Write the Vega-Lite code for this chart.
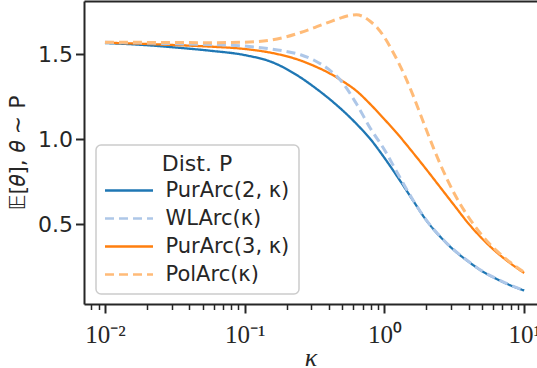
{
 "$schema": "https://vega.github.io/schema/vega-lite/v6.json",
 "width": 453,
 "height": 303,
 "autosize": {"type": "none"},
 "padding": {"left": 84, "top": 1, "right": 0, "bottom": 64},
 "background": "white",
 "config": {
  "view": {"stroke": null},
  "font": "DejaVu Sans",
  "axis": {"grid": false, "domainColor": "#262626", "domainWidth": 2, "tickColor": "#262626", "tickWidth": 2, "labelColor": "#262626", "titleColor": "#262626", "titleFontWeight": "normal"},
  "legend": {"strokeWidth": 1.5}
 },
 "data": {"values": [
  {"s": "PurArc(2, κ)", "k": 0.01, "v": 1.566},
  {"s": "PurArc(2, κ)", "k": 0.01778, "v": 1.556},
  {"s": "PurArc(2, κ)", "k": 0.03162, "v": 1.540},
  {"s": "PurArc(2, κ)", "k": 0.05623, "v": 1.521},
  {"s": "PurArc(2, κ)", "k": 0.1, "v": 1.495},
  {"s": "PurArc(2, κ)", "k": 0.1585, "v": 1.452},
  {"s": "PurArc(2, κ)", "k": 0.2512, "v": 1.363},
  {"s": "PurArc(2, κ)", "k": 0.3162, "v": 1.305},
  {"s": "PurArc(2, κ)", "k": 0.3981, "v": 1.241},
  {"s": "PurArc(2, κ)", "k": 0.5012, "v": 1.17},
  {"s": "PurArc(2, κ)", "k": 0.631, "v": 1.09},
  {"s": "PurArc(2, κ)", "k": 0.7943, "v": 1.0},
  {"s": "PurArc(2, κ)", "k": 1, "v": 0.89},
  {"s": "PurArc(2, κ)", "k": 1.259, "v": 0.77},
  {"s": "PurArc(2, κ)", "k": 1.585, "v": 0.645},
  {"s": "PurArc(2, κ)", "k": 1.995, "v": 0.522},
  {"s": "PurArc(2, κ)", "k": 2.512, "v": 0.425},
  {"s": "PurArc(2, κ)", "k": 3.162, "v": 0.345},
  {"s": "PurArc(2, κ)", "k": 3.981, "v": 0.28},
  {"s": "PurArc(2, κ)", "k": 5.012, "v": 0.222},
  {"s": "PurArc(2, κ)", "k": 6.31, "v": 0.178},
  {"s": "PurArc(2, κ)", "k": 7.943, "v": 0.14},
  {"s": "PurArc(2, κ)", "k": 10, "v": 0.109},
  {"s": "WLArc(κ)", "k": 0.01, "v": 1.570},
  {"s": "WLArc(κ)", "k": 0.01778, "v": 1.567},
  {"s": "WLArc(κ)", "k": 0.03162, "v": 1.562},
  {"s": "WLArc(κ)", "k": 0.05623, "v": 1.557},
  {"s": "WLArc(κ)", "k": 0.1, "v": 1.548},
  {"s": "WLArc(κ)", "k": 0.1585, "v": 1.530},
  {"s": "WLArc(κ)", "k": 0.1995, "v": 1.516},
  {"s": "WLArc(κ)", "k": 0.2512, "v": 1.497},
  {"s": "WLArc(κ)", "k": 0.3162, "v": 1.463},
  {"s": "WLArc(κ)", "k": 0.3981, "v": 1.412},
  {"s": "WLArc(κ)", "k": 0.5012, "v": 1.333},
  {"s": "WLArc(κ)", "k": 0.631, "v": 1.208},
  {"s": "WLArc(κ)", "k": 0.7943, "v": 1.063},
  {"s": "WLArc(κ)", "k": 1, "v": 0.938},
  {"s": "WLArc(κ)", "k": 1.259, "v": 0.79},
  {"s": "WLArc(κ)", "k": 1.585, "v": 0.648},
  {"s": "WLArc(κ)", "k": 1.995, "v": 0.523},
  {"s": "WLArc(κ)", "k": 2.512, "v": 0.426},
  {"s": "WLArc(κ)", "k": 3.162, "v": 0.346},
  {"s": "WLArc(κ)", "k": 3.981, "v": 0.281},
  {"s": "WLArc(κ)", "k": 5.012, "v": 0.223},
  {"s": "WLArc(κ)", "k": 6.31, "v": 0.179},
  {"s": "WLArc(κ)", "k": 7.943, "v": 0.141},
  {"s": "WLArc(κ)", "k": 10, "v": 0.11},
  {"s": "PurArc(3, κ)", "k": 0.01, "v": 1.568},
  {"s": "PurArc(3, κ)", "k": 0.01778, "v": 1.562},
  {"s": "PurArc(3, κ)", "k": 0.03162, "v": 1.554},
  {"s": "PurArc(3, κ)", "k": 0.05623, "v": 1.545},
  {"s": "PurArc(3, κ)", "k": 0.1, "v": 1.531},
  {"s": "PurArc(3, κ)", "k": 0.1585, "v": 1.507},
  {"s": "PurArc(3, κ)", "k": 0.2512, "v": 1.463},
  {"s": "PurArc(3, κ)", "k": 0.3162, "v": 1.43},
  {"s": "PurArc(3, κ)", "k": 0.3981, "v": 1.391},
  {"s": "PurArc(3, κ)", "k": 0.5012, "v": 1.342},
  {"s": "PurArc(3, κ)", "k": 0.631, "v": 1.284},
  {"s": "PurArc(3, κ)", "k": 0.7943, "v": 1.205},
  {"s": "PurArc(3, κ)", "k": 1, "v": 1.117},
  {"s": "PurArc(3, κ)", "k": 1.259, "v": 1.025},
  {"s": "PurArc(3, κ)", "k": 1.585, "v": 0.925},
  {"s": "PurArc(3, κ)", "k": 1.995, "v": 0.822},
  {"s": "PurArc(3, κ)", "k": 2.512, "v": 0.716},
  {"s": "PurArc(3, κ)", "k": 3.162, "v": 0.61},
  {"s": "PurArc(3, κ)", "k": 3.981, "v": 0.505},
  {"s": "PurArc(3, κ)", "k": 5.012, "v": 0.414},
  {"s": "PurArc(3, κ)", "k": 6.31, "v": 0.336},
  {"s": "PurArc(3, κ)", "k": 7.943, "v": 0.27},
  {"s": "PurArc(3, κ)", "k": 10, "v": 0.212},
  {"s": "PolArc(κ)", "k": 0.01, "v": 1.571},
  {"s": "PolArc(κ)", "k": 0.01778, "v": 1.570},
  {"s": "PolArc(κ)", "k": 0.03162, "v": 1.569},
  {"s": "PolArc(κ)", "k": 0.05623, "v": 1.568},
  {"s": "PolArc(κ)", "k": 0.1, "v": 1.571},
  {"s": "PolArc(κ)", "k": 0.1585, "v": 1.585},
  {"s": "PolArc(κ)", "k": 0.1995, "v": 1.603},
  {"s": "PolArc(κ)", "k": 0.2512, "v": 1.628},
  {"s": "PolArc(κ)", "k": 0.3162, "v": 1.657},
  {"s": "PolArc(κ)", "k": 0.3981, "v": 1.688},
  {"s": "PolArc(κ)", "k": 0.5012, "v": 1.717},
  {"s": "PolArc(κ)", "k": 0.5623, "v": 1.728},
  {"s": "PolArc(κ)", "k": 0.631, "v": 1.732},
  {"s": "PolArc(κ)", "k": 0.7079, "v": 1.721},
  {"s": "PolArc(κ)", "k": 0.7943, "v": 1.693},
  {"s": "PolArc(κ)", "k": 0.8913, "v": 1.655},
  {"s": "PolArc(κ)", "k": 1, "v": 1.600},
  {"s": "PolArc(κ)", "k": 1.122, "v": 1.530},
  {"s": "PolArc(κ)", "k": 1.259, "v": 1.452},
  {"s": "PolArc(κ)", "k": 1.413, "v": 1.365},
  {"s": "PolArc(κ)", "k": 1.585, "v": 1.268},
  {"s": "PolArc(κ)", "k": 1.778, "v": 1.163},
  {"s": "PolArc(κ)", "k": 1.995, "v": 1.055},
  {"s": "PolArc(κ)", "k": 2.239, "v": 0.95},
  {"s": "PolArc(κ)", "k": 2.512, "v": 0.852},
  {"s": "PolArc(κ)", "k": 2.818, "v": 0.762},
  {"s": "PolArc(κ)", "k": 3.162, "v": 0.68},
  {"s": "PolArc(κ)", "k": 3.981, "v": 0.543},
  {"s": "PolArc(κ)", "k": 5.012, "v": 0.432},
  {"s": "PolArc(κ)", "k": 6.31, "v": 0.345},
  {"s": "PolArc(κ)", "k": 7.943, "v": 0.275},
  {"s": "PolArc(κ)", "k": 10, "v": 0.216}
 ]},
 "layer": [
  {
   "transform": [{"filter": {"field": "s", "oneOf": ["PurArc(2, κ)", "PurArc(3, κ)"]}}],
   "mark": {"type": "line", "interpolate": "monotone", "strokeWidth": 2.3, "clip": true},
   "encoding": {
    "x": {"field": "k", "type": "quantitative",
     "scale": {"type": "log", "domain": [0.007079, 12.36], "nice": false},
     "axis": {"orient": "bottom", "values": [0.01, 0.1, 1, 10],
      "labelExpr": "datum.value < 0.05 ? '10⁻²' : datum.value < 0.5 ? '10⁻¹' : datum.value < 5 ? '10⁰' : '10¹'",
      "tickSize": 9, "labelFont": "Liberation Serif", "labelFontSize": 25, "labelPadding": 9,
      "labelFlush": false, "labelOverlap": false,
      "title": "κ", "titleFont": "Liberation Serif", "titleFontStyle": "italic", "titleFontSize": 26, "titlePadding": -3}},
    "y": {"field": "v", "type": "quantitative",
     "scale": {"domain": [0.0294, 1.8135], "nice": false, "zero": false},
     "axis": {"values": [0.5, 1, 1.5], "format": ".1f", "tickSize": 8.5, "labelFont": "DejaVu Sans", "labelFontSize": 22, "labelPadding": 3,
      "title": "𝔼[𝜃], 𝜃 ∼ P", "titleFont": "DejaVu Sans", "titleFontSize": 22, "titlePadding": 8}},
    "color": {"field": "s", "type": "nominal",
     "scale": {"domain": ["PurArc(2, κ)", "WLArc(κ)", "PurArc(3, κ)", "PolArc(κ)"], "range": ["#1f77b4", "#aec7e8", "#ff7f0e", "#ffbb78"]},
     "legend": {"orient": "none", "legendX": 12, "legendY": 144, "title": "Dist. P",
      "titleFont": "DejaVu Sans", "titleFontSize": 22, "titleFontWeight": "normal", "titleAnchor": "middle", "titleColor": "#262626", "titlePadding": 4,
      "labelFont": "DejaVu Sans", "labelFontSize": 21, "labelColor": "#262626", "labelOffset": 26, "labelLimit": 300,
      "symbolType": "M-4,0H4", "symbolSize": 144, "symbolStrokeWidth": 2.5, "symbolOffset": 13.5,
      "rowPadding": 6, "padding": 9, "strokeColor": "#cccccc", "fillColor": "rgba(255,255,255,0.8)", "cornerRadius": 5}},
    "strokeDash": {"field": "s", "type": "nominal",
     "scale": {"domain": ["PurArc(2, κ)", "WLArc(κ)", "PurArc(3, κ)", "PolArc(κ)"], "range": [[1, 0], [9, 5], [1, 0], [9, 5]]}}
   }
  },
  {
   "transform": [{"filter": {"field": "s", "oneOf": ["WLArc(κ)", "PolArc(κ)"]}}],
   "mark": {"type": "line", "interpolate": "monotone", "strokeWidth": 3, "clip": true},
   "encoding": {
    "x": {"field": "k", "type": "quantitative",
     "axis": {"orient": "bottom", "values": [0.008, 0.009, 0.02, 0.03, 0.04, 0.05, 0.06, 0.07, 0.08, 0.09, 0.2, 0.3, 0.4, 0.5, 0.6, 0.7, 0.8, 0.9, 2, 3, 4, 5, 6, 7, 8, 9],
      "labels": false, "domain": false, "tickSize": 5.5, "tickWidth": 1.5, "title": null}},
    "y": {"field": "v", "type": "quantitative"},
    "color": {"field": "s", "type": "nominal",
     "scale": {"domain": ["PurArc(2, κ)", "WLArc(κ)", "PurArc(3, κ)", "PolArc(κ)"], "range": ["#1f77b4", "#aec7e8", "#ff7f0e", "#ffbb78"]}},
    "strokeDash": {"field": "s", "type": "nominal",
     "scale": {"domain": ["PurArc(2, κ)", "WLArc(κ)", "PurArc(3, κ)", "PolArc(κ)"], "range": [[1, 0], [9, 5], [1, 0], [9, 5]]}}
   }
  },
  {
   "mark": {"type": "tick", "opacity": 0},
   "encoding": {
    "x": {"field": "k", "type": "quantitative",
     "axis": {"orient": "top", "ticks": false, "labels": false, "domain": true, "title": null}}
   }
  }
 ],
 "resolve": {"axis": {"x": "independent"}}
}
